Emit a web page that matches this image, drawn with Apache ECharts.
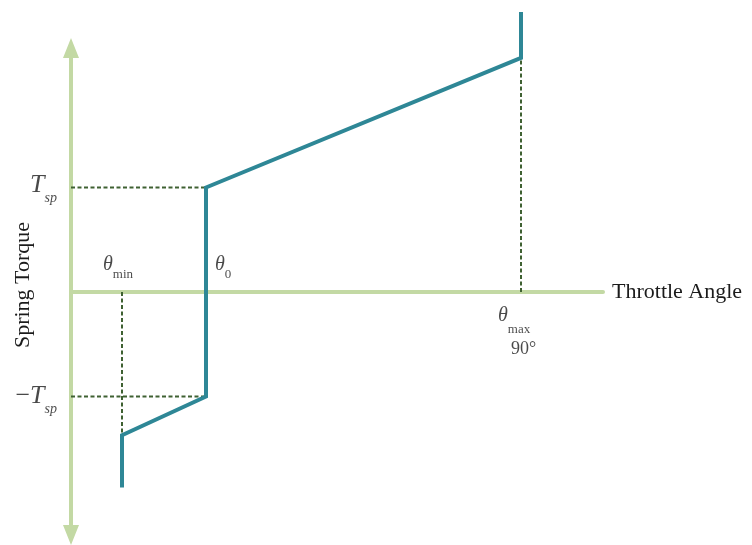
<!DOCTYPE html>
<html>
<head>
<meta charset="utf-8">
<title>Spring Torque vs Throttle Angle</title>
<script src="https://cdn.jsdelivr.net/npm/echarts@6/dist/echarts.min.js"></script>
<style>
  html, body { margin: 0; padding: 0; background: #ffffff; }
  #chart { width: 752px; height: 545px; }
</style>
</head>
<body>
<div id="chart"></div>
<script>
// Characteristic angles (degrees) and spring torque level (normalised, T_sp = 1)
const thetaMin = 10.2;
const theta0 = 27;
const thetaMax = 90;
const tsp = 1;

// Spring torque curve: angle / torque pairs
const curveAngles = [thetaMin, thetaMin, theta0, theta0, thetaMax, thetaMax];
const curveTorques = [-1.87, -1.37, -tsp, tsp, 2.24, 2.68];

// Axis extents
const angleAxisMax = 106.4;
const torqueAxisMin = -2.325;
const torqueAxisMax = 2.335;

const FONT = "'Liberation Serif', 'DejaVu Serif', serif";
const TEXT = '#1b1b1b';
const AXIS_GREEN = '#c3d9a4';
const TEAL = '#2e8796';
const GUIDE = '#3f6132';

const chart = echarts.init(document.getElementById('chart'), null, { renderer: 'canvas' });

const curveData = curveAngles.map((a, i) => [a, curveTorques[i]]);

// Dotted guide lines from the axes to the curve's corners
const guides = [
  [[0, tsp], [theta0, tsp]],
  [[0, -tsp], [theta0, -tsp]],
  [[thetaMin, 0], [thetaMin, curveTorques[1]]],
  [[thetaMax, 0], [thetaMax, curveTorques[4]]]
];

const guideSeries = guides.map(seg => ({
  type: 'line',
  data: seg,
  symbol: 'none',
  silent: true,
  z: 3,
  lineStyle: { color: GUIDE, width: 2, type: [4, 2.5] }
}));

// Rich-text styles: italic symbol with an upright subscript.
// The main token's lineHeight sets the line box; subscripts sit at its bottom.
const rich = {
  T: { fontFamily: FONT, fontStyle: 'italic', fontSize: 26, lineHeight: 33, verticalAlign: 'top', color: TEXT },
  neg: { fontFamily: FONT, fontSize: 26, lineHeight: 33, verticalAlign: 'top', color: TEXT },
  sp: { fontFamily: FONT, fontStyle: 'italic', fontSize: 14, lineHeight: 14, verticalAlign: 'bottom', color: TEXT },
  th: { fontFamily: FONT, fontStyle: 'italic', fontSize: 20, lineHeight: 26, verticalAlign: 'top', color: TEXT },
  thLow: { fontFamily: FONT, fontStyle: 'italic', fontSize: 20, lineHeight: 30, verticalAlign: 'top', color: TEXT },
  sub: { fontFamily: FONT, fontSize: 13, lineHeight: 13, verticalAlign: 'bottom', color: TEXT },
  deg: { fontFamily: FONT, fontSize: 18, lineHeight: 18, verticalAlign: 'top', color: TEXT }
};

function labelPoint(x, y, text, pos, align) {
  return {
    value: [x, y],
    label: { show: true, formatter: text, position: pos, align: align || 'left', verticalAlign: 'top', rich: rich }
  };
}

const labelSeries = {
  type: 'scatter',
  symbolSize: 0,
  silent: true,
  z: 5,
  data: [
    labelPoint(0, tsp, '{T|T}{sp|sp}', [-14, -15], 'right'),
    labelPoint(0, -tsp, '{neg|\u2212}{T|T}{sp|sp}', [-14, -13], 'right'),
    labelPoint(thetaMin, 0, '{th|\u03b8}{sub|min}', [-19, -37]),
    labelPoint(theta0, 0, '{th|\u03b8}{sub|0}', [9, -37]),
    labelPoint(thetaMax, 0, '{thLow|\u03b8}{sub|max}', [-23, 14]),
    labelPoint(thetaMax, 0, '{deg|90\u00b0}', [-10, 48])
  ]
};

const option = {
  animation: false,
  backgroundColor: '#ffffff',
  grid: {
    left: 71, right: 752 - 603, top: 48, bottom: 545 - 535,
    containLabel: false,
    outerBoundsMode: 'none'
  },
  xAxis: {
    type: 'value',
    min: 0,
    max: angleAxisMax,
    name: 'Throttle Angle',
    nameLocation: 'end',
    nameGap: 9,
    nameTextStyle: { fontFamily: FONT, fontSize: 22, color: TEXT, padding: [0, 0, 14, 0] },
    axisLine: { show: true, onZero: true, lineStyle: { color: AXIS_GREEN, width: 4, cap: 'round' } },
    axisTick: { show: false },
    axisLabel: { show: false },
    splitLine: { show: false }
  },
  yAxis: {
    type: 'value',
    min: torqueAxisMin,
    max: torqueAxisMax,
    name: 'Spring Torque',
    nameLocation: 'middle',
    nameRotate: 90,
    nameGap: 37,
    nameTextStyle: { fontFamily: FONT, fontSize: 22, color: TEXT, padding: [0, 0, 0, 13] },
    axisLine: {
      show: true,
      onZero: false,
      symbol: ['triangle', 'triangle'],
      symbolSize: [16, 20],
      lineStyle: { color: AXIS_GREEN, width: 4 }
    },
    axisTick: { show: false },
    axisLabel: { show: false },
    splitLine: { show: false }
  },
  series: [
    ...guideSeries,
    {
      type: 'line',
      name: 'Spring Torque',
      data: curveData,
      symbol: 'none',
      clip: false,
      silent: true,
      z: 4,
      lineStyle: { color: TEAL, width: 4, join: 'miter', cap: 'butt' }
    },
    labelSeries
  ]
};

chart.setOption(option);
</script>
</body>
</html>
